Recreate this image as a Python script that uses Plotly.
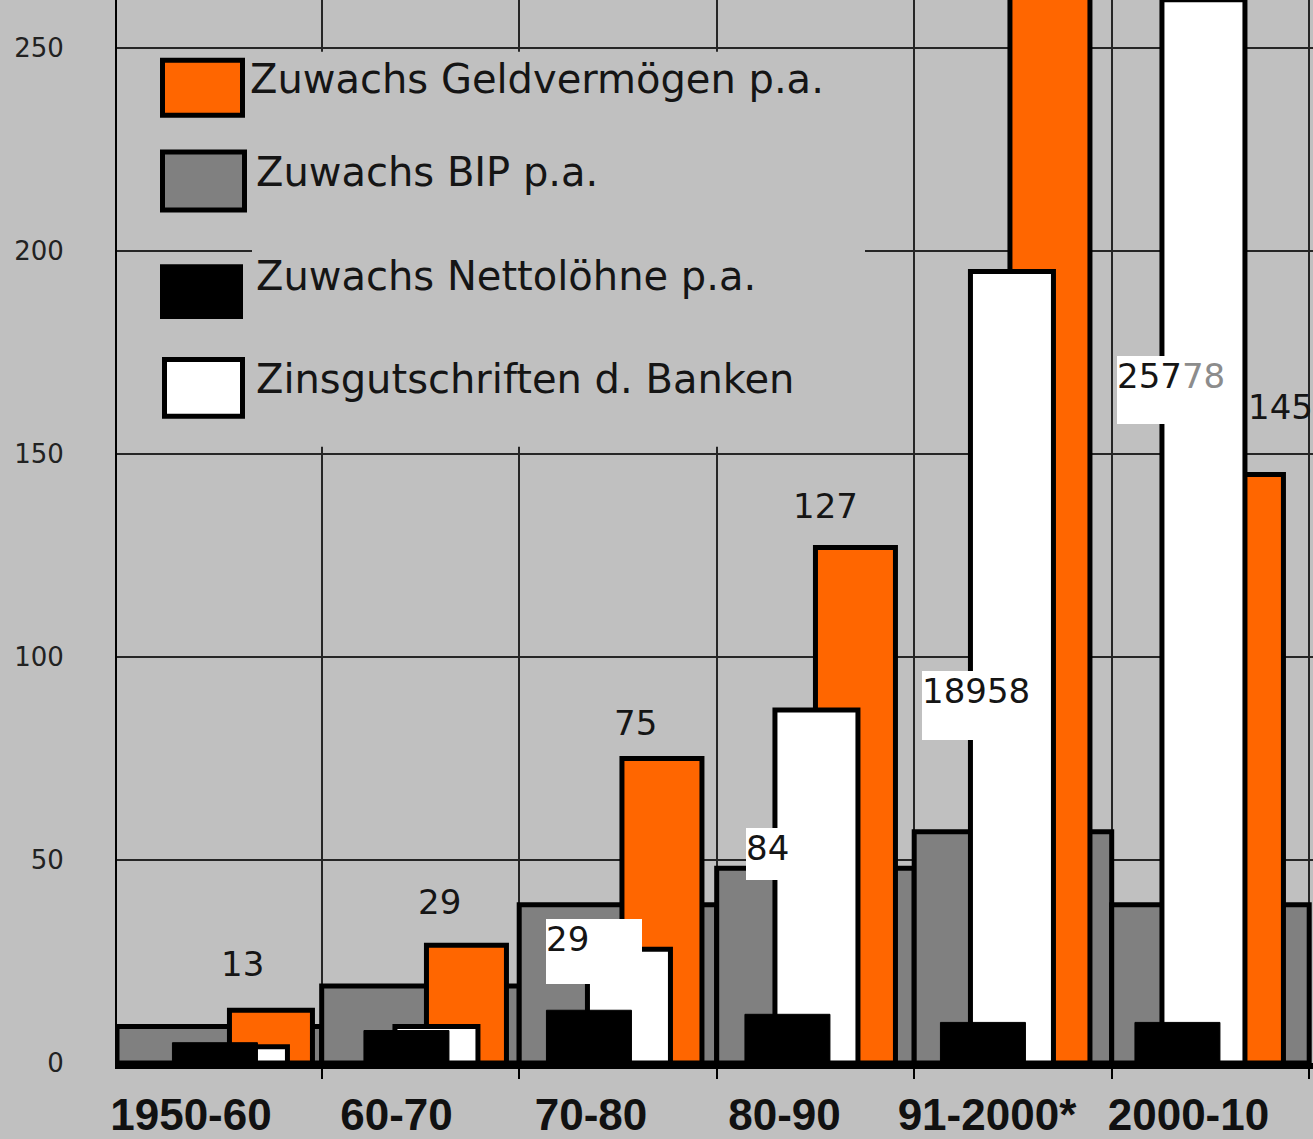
import plotly.graph_objects as go

# ---------------- data ----------------
categories = ["1950-60", "60-70", "70-80", "80-90", "91-2000*", "2000-10"]
geldvermoegen = [13, 29, 75, 127, 280, 145]      # Zuwachs Geldvermögen p.a.
bip = [9, 19, 39, 48, 57, 39]                      # Zuwachs BIP p.a.
nettoloehne = [5, 8, 13, 12, 10, 10]               # Zuwachs Nettolöhne p.a.
zinsgutschriften = [4, 9, 28, 87, 195, 262]        # Zinsgutschriften d. Banken

series_names = ["Zuwachs Geldvermögen p.a.", "Zuwachs BIP p.a.",
                "Zuwachs Nettolöhne p.a.", "Zinsgutschriften d. Banken"]
orange_labels = ["13", "29", "75", "127", "", "145"]
white_labels = ["", "", "29", "84", "18958", '257<span style="color:#8c8c8c">78</span>']
y_ticks = [0, 50, 100, 150, 200, 250]

# ---------------- geometry / style ----------------
W, H = 1313, 1139
PL, PR, PT, PB = 117, 1313, 0, 1066
CELL0, CELL, PXU = 124.2, 197.5, 4.07

BG = "#c0c0c0"
ORANGE, GRAY, BLACK, WHITE = "#ff6600", "#808080", "#000000", "#ffffff"
TXT = "#151515"


def xu(px):
    return (px - CELL0) / CELL - 0.5


def xp(px):
    return (px - PL) / (PR - PL)


def yp(py):
    return (PB - py) / (PB - PT)


def yv(py):
    return (PB - py) / PXU


xs = list(range(len(categories)))

# bar placement inside each category (pixel centres relative to category centre)
black_dx = [-8, -14, -29, -28, -30, -33]
white_dx = [23, 16, 11, 1, -1, -7]
orange_dx = [48, 46, 44, 40, 37, 33]
black_w, white_w = 85, 83
orange_w = [83, 80, 80, 80, 80, 80]


def offs(dx, w):
    if not isinstance(w, list):
        w = [w] * len(dx)
    return [(d - ww / 2) / CELL for d, ww in zip(dx, w)], [ww / CELL for ww in w]


fig = go.Figure()

# grey (BIP) - full-width steps
g_off = [-0.5] * len(xs)
g_w = [1.0] * len(xs)
g_off[0] = xu(PL)
g_w[0] = 0.5 - xu(PL)
fig.add_trace(go.Bar(x=xs, y=bip, offset=g_off, width=g_w, name=series_names[1],
                     marker=dict(color=GRAY, line=dict(color=BLACK, width=5)),
                     hoverinfo="y"))

o_off, o_w = offs(orange_dx, orange_w)
fig.add_trace(go.Bar(x=xs, y=geldvermoegen, offset=o_off, width=o_w, name=series_names[0],
                     marker=dict(color=ORANGE, line=dict(color=BLACK, width=5)),
                     hoverinfo="y"))

w_off, w_w = offs(white_dx, white_w)
fig.add_trace(go.Bar(x=xs, y=zinsgutschriften, offset=w_off, width=w_w, name=series_names[3],
                     marker=dict(color=WHITE, line=dict(color=BLACK, width=5)),
                     hoverinfo="y"))

b_off, b_w = offs(black_dx, black_w)
fig.add_trace(go.Bar(x=xs, y=nettoloehne, offset=b_off, width=b_w, name=series_names[2],
                     marker=dict(color=BLACK, line=dict(color=BLACK, width=1)),
                     hoverinfo="y"))

# dummy trace so the overlaying label axis exists
label_dx = [-32, -24, -27, -31, -26, -22]
label_pos = [i + d / CELL for i, d in zip(xs, label_dx)]
fig.add_trace(go.Scatter(x=label_pos, y=[None] * len(label_pos), xaxis="x2", yaxis="y",
                         showlegend=False, hoverinfo="skip", mode="markers"))

xr = [xu(PL), xu(PR)]

fig.update_layout(
    width=W, height=H,
    margin=dict(l=PL, r=W - PR, t=PT, b=H - PB, pad=0),
    paper_bgcolor=BG, plot_bgcolor=BG,
    barmode="overlay", showlegend=False,
    xaxis=dict(range=xr, tickvals=[i + 0.5 for i in xs], showticklabels=False,
               ticks="outside", ticklen=10, tickwidth=2, tickcolor=BLACK,
               showgrid=True, gridcolor="#262626", gridwidth=1.5,
               showline=True, linecolor=BLACK, linewidth=6, zeroline=False,
               fixedrange=True),
    xaxis2=dict(range=xr, overlaying="x", anchor="y", side="bottom",
                tickvals=label_pos, ticktext=categories, ticks="",
                showgrid=False, showline=False, zeroline=False,
                ticklabelstandoff=22,
                tickfont=dict(family="Liberation Sans", size=44, color="#111111", weight="bold")),
    yaxis=dict(range=[0, PB / PXU], tickvals=y_ticks, ticks="",
               showgrid=True, gridcolor="#262626", gridwidth=1.5,
               showline=True, linecolor=BLACK, linewidth=2, zeroline=False,
               ticklabelstandoff=46,
               tickfont=dict(family="DejaVu Sans", size=26, color="#222222")),
)

# ---------------- legend (drawn manually with large swatches) ----------------
shapes = []
for (x0, y0, x1, y1) in [(252, 52, 865, 448), (125, 52, 252, 247), (125, 257, 252, 448)]:
    shapes.append(dict(type="rect", xref="paper", yref="paper",
                       x0=xp(x0), x1=xp(x1), y0=yp(y1), y1=yp(y0),
                       fillcolor=BG, line=dict(width=0)))
swatches = [
    ((162.5, 60.5, 242.5, 115.5), ORANGE, 5),
    ((162.5, 152.5, 244.5, 210.5), GRAY, 5),
    ((160, 265, 243, 320), BLACK, 0),
    ((164.5, 360.5, 242.5, 417.5), WHITE, 5),
]
for (x0, y0, x1, y1), col, lw in swatches:
    shapes.append(dict(type="rect", xref="paper", yref="paper",
                       x0=xp(x0), x1=xp(x1), y0=yp(y1), y1=yp(y0),
                       fillcolor=col, line=dict(color=BLACK, width=lw)))
fig.update_layout(shapes=shapes)

annotations = []
legend_text_pos = [(248, 79), (254, 172), (254, 277), (254, 380)]
for name, (lx, ly) in zip(series_names, legend_text_pos):
    annotations.append(dict(text=name, xref="paper", yref="paper", x=xp(lx), y=yp(ly),
                            xanchor="left", yanchor="middle", showarrow=False,
                            font=dict(family="DejaVu Sans", size=40, color=TXT)))

# ---------------- value labels ----------------
orange_label_dx = [20, 19.5, 18, 10.5, 0, 70.5]
orange_label_dy = [46, 43, 36, 42, 0, 68]
for i, (lab, val) in enumerate(zip(orange_labels, geldvermoegen)):
    if not lab:
        continue
    annotations.append(dict(text=lab, x=i + orange_label_dx[i] / CELL, y=val,
                            xref="x", yref="y", xanchor="center", yanchor="middle",
                            yshift=orange_label_dy[i], showarrow=False,
                            font=dict(family="DejaVu Sans", size=34, color=TXT)))

# white label boxes: (left px rel. to category centre, top px, box w, box h)
white_box = [None, None, (-72, 922, 96, 65), (-69.5, 830, 46, 52),
             (-91, 673, 111, 69), (-93.5, 357, 114, 68)]
for i, (lab, box) in enumerate(zip(white_labels, white_box)):
    if not lab:
        continue
    dx, top, bw, bh = box
    annotations.append(dict(text=lab, x=i + dx / CELL, y=yv(top), xref="x", yref="y",
                            xanchor="left", yanchor="top", width=bw, height=bh,
                            align="left", valign="top", bgcolor=WHITE, borderpad=0,
                            borderwidth=0, showarrow=False,
                            font=dict(family="DejaVu Sans", size=34, color=TXT)))

fig.update_layout(annotations=annotations)

fig.write_html("out.html", config={"displayModeBar": False},
               post_script="document.body.style.margin='0px';document.body.style.overflow='hidden';")
